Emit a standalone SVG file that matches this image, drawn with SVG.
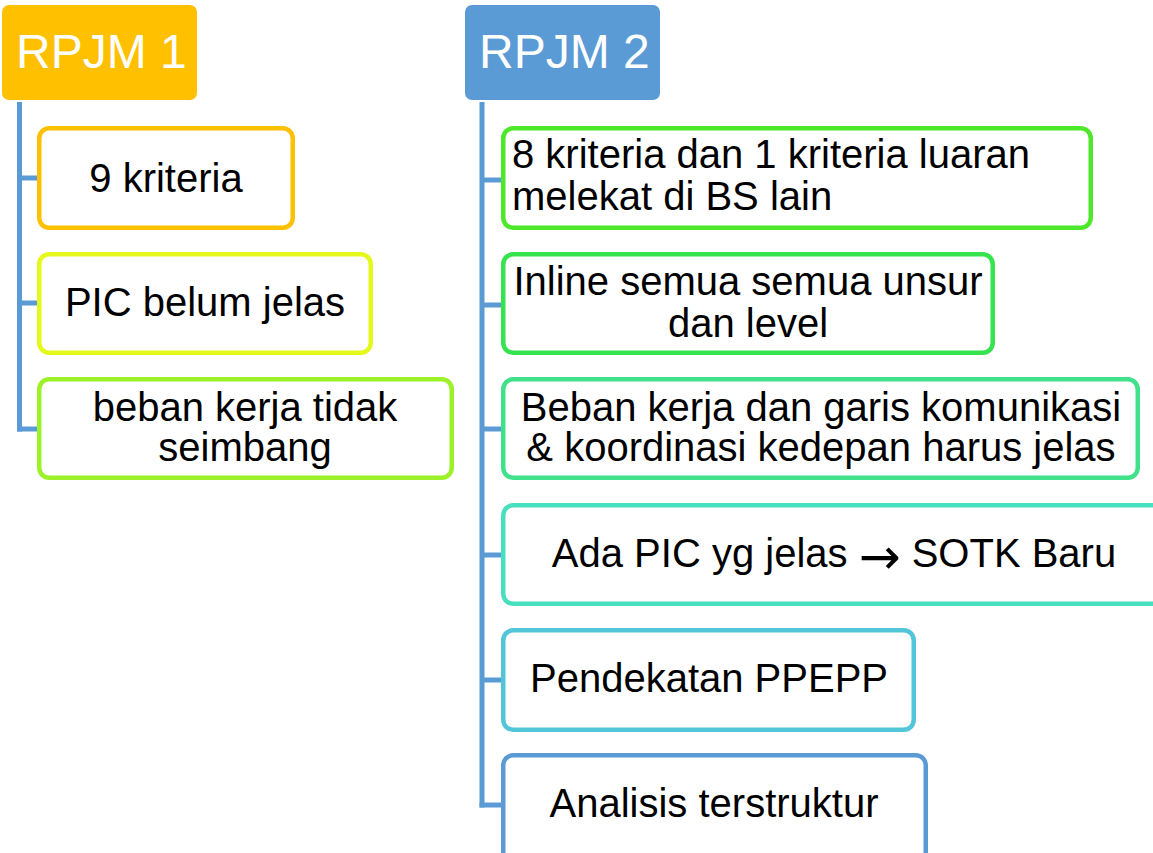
<svg xmlns="http://www.w3.org/2000/svg" width="1153" height="853" viewBox="0 0 1153 853">
<style>
.hdr{font-family:"Liberation Sans",Arial,sans-serif;font-size:48px;fill:#fff}
.t{font-family:"Liberation Sans",Arial,sans-serif;font-size:40px;fill:#000}
.arr{font-family:"DejaVu Sans",sans-serif;font-size:50px}
.c{text-anchor:middle}
.box{fill:#fff;stroke-width:4.5}
.conn{fill:none;stroke:#5B9BD5;stroke-width:5}
</style>
<rect width="1153" height="853" fill="#fff"/>
<g id="connectors">
<path class="conn" d="M19.5 102 V431.5"/>
<path class="conn" d="M19.5 178 H39"/>
<path class="conn" d="M19.5 303 H39"/>
<path class="conn" d="M17 429 H39"/>
<path class="conn" d="M482 102 V807.5"/>
<path class="conn" d="M482 180 H503"/>
<path class="conn" d="M482 305 H503"/>
<path class="conn" d="M482 429 H503"/>
<path class="conn" d="M482 555 H503"/>
<path class="conn" d="M482 680 H503"/>
<path class="conn" d="M479.5 805 H503"/>
</g>
<g id="rpjm1">
<rect x="2" y="5" width="195" height="95" rx="7" fill="#FFC000"/>
<text class="hdr" x="16" y="68">RPJM 1</text>
</g>
<g id="n1">
<rect class="box" x="39.25" y="128.25" width="253.5" height="99.5" rx="10" stroke="#FFC000"/>
<text class="t c" x="166" y="192">9 kriteria</text>
</g>
<g id="n2">
<rect class="box" x="39.25" y="254.25" width="331.5" height="98.5" rx="10" stroke="#E4F91B"/>
<text class="t c" x="205" y="316">PIC belum jelas</text>
</g>
<g id="n3">
<rect class="box" x="39.25" y="379.25" width="412.5" height="98.5" rx="10" stroke="#9CF129"/>
<text class="t c" x="245" y="421">beban kerja tidak</text>
<text class="t c" x="245" y="461">seimbang</text>
</g>
<g id="rpjm2">
<rect x="465" y="5" width="195" height="95" rx="7" fill="#5B9BD5"/>
<text class="hdr" x="479" y="68">RPJM 2</text>
</g>
<g id="nA">
<rect class="box" x="503.25" y="128.25" width="587.5" height="99.5" rx="10" stroke="#4EE82B"/>
<text class="t" x="512" y="168">8 kriteria dan 1 kriteria luaran</text>
<text class="t" x="512" y="210">melekat di BS lain</text>
</g>
<g id="nB">
<rect class="box" x="503.25" y="254.25" width="489.5" height="98.5" rx="10" stroke="#35E44C"/>
<text class="t c" x="748" y="295">Inline semua semua unsur</text>
<text class="t c" x="748" y="337">dan level</text>
</g>
<g id="nC">
<rect class="box" x="503.25" y="379.25" width="634.5" height="98.5" rx="10" stroke="#41E18C"/>
<text class="t c" x="821" y="421">Beban kerja dan garis komunikasi</text>
<text class="t c" x="821" y="461">&amp; koordinasi kedepan harus jelas</text>
</g>
<g id="nD">
<rect class="box" x="503.25" y="505.25" width="670" height="98.5" rx="10" stroke="#48DFC0"/>
<text class="t c" x="834" y="567">Ada PIC yg jelas <tspan class="arr" dy="7">→</tspan><tspan dy="-7"> SOTK Baru</tspan></text>
</g>
<g id="nE">
<rect class="box" x="503.25" y="630.25" width="410.5" height="99.5" rx="10" stroke="#52C5D8"/>
<text class="t c" x="709" y="692">Pendekatan PPEPP</text>
</g>
<g id="nF">
<rect class="box" x="503.25" y="755.25" width="422.5" height="110" rx="10" stroke="#5B9BD5"/>
<text class="t c" x="714" y="817">Analisis terstruktur</text>
</g>
</svg>
